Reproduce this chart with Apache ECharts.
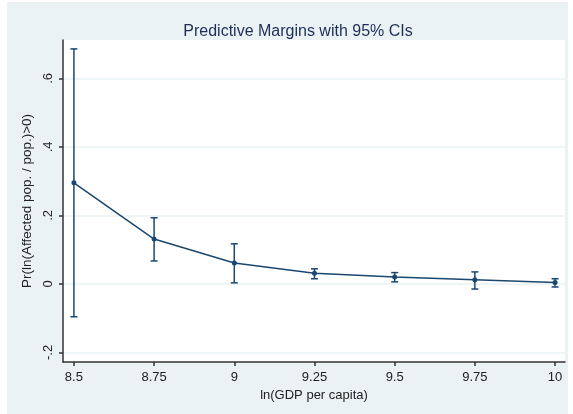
<!DOCTYPE html>
<html>
<head>
<meta charset="utf-8">
<script src="https://cdn.jsdelivr.net/npm/echarts@6/dist/echarts.min.js"></script>
<style>
  html, body { margin: 0; padding: 0; background: #ffffff; width: 573px; height: 414px; overflow: hidden; }
  #chart { position: absolute; left: 7px; top: 2px; width: 561px; height: 412px; }
</style>
</head>
<body>
<div id="chart"></div>
<script>
// Data
const gdpLevels = [8.5, 8.75, 9, 9.25, 9.5, 9.75, 10];
const margins   = [0.295, 0.131, 0.061, 0.031, 0.020, 0.012, 0.004];
const ciLower   = [-0.096, 0.067, 0.003, 0.015, 0.006, -0.015, -0.009];
const ciUpper   = [0.686, 0.193, 0.117, 0.044, 0.033, 0.035, 0.015];
const xTicks    = [8.5, 8.75, 9, 9.25, 9.5, 9.75, 10];
const xTickLabels = ['8.5', '8.75', '9', '9.25', '9.5', '9.75', '10'];
const yTicks    = [-0.2, 0, 0.2, 0.4, 0.6];
const yTickLabels = ['-.2', '0', '.2', '.4', '.6'];

const navy = '#1a476f';
const font = 'Arial, "Liberation Sans", sans-serif';

const chart = echarts.init(document.getElementById('chart'), null, { renderer: 'canvas' });

const pointData = gdpLevels.map((x, i) => [x, margins[i]]);
const ciData = gdpLevels.map((x, i) => [x, ciLower[i], ciUpper[i]]);

chart.setOption({
  backgroundColor: '#eaf2f3',
  animation: false,
  title: {
    text: 'Predictive Margins with 95% CIs',
    left: 286,
    top: 17,
    textAlign: 'center',
    textStyle: { fontFamily: font, fontSize: 16, fontWeight: 'normal', color: '#1e2d5a' }
  },
  grid: { left: 56, right: 3, top: 38, bottom: 52, show: true, backgroundColor: '#ffffff', borderWidth: 0 },
  xAxis: {
    type: 'value',
    min: 8.466,
    max: 10.031,
    name: 'ln(GDP per capita)',
    nameLocation: 'middle',
    nameGap: 25,
    nameTextStyle: { fontFamily: font, fontSize: 13, color: '#222' },
    axisLine: { show: true, onZero: false, lineStyle: { color: '#333', width: 1.5 } },
    axisTick: { show: true, length: 4, customValues: xTicks, lineStyle: { color: '#333', width: 1.5 } },
    axisLabel: {
      customValues: xTicks,
      margin: 9,
      fontFamily: font, fontSize: 13, color: '#222',
      formatter: v => { const i = xTicks.findIndex(t => Math.abs(t - v) < 1e-6); return i >= 0 ? xTickLabels[i] : ''; }
    },
    splitLine: { show: false }
  },
  yAxis: {
    type: 'value',
    min: -0.228,
    max: 0.712,
    name: 'Pr(ln(Affected pop. / pop.)>0)',
    nameLocation: 'middle',
    nameGap: 26,
    nameTextStyle: { fontFamily: font, fontSize: 13.5, color: '#222' },
    axisLine: { show: true, onZero: false, lineStyle: { color: '#333', width: 1.5 } },
    axisTick: { show: true, length: 4, customValues: yTicks, lineStyle: { color: '#333', width: 1.5 } },
    axisLabel: {
      customValues: yTicks,
      rotate: 90,
      margin: 8,
      fontFamily: font, fontSize: 13, color: '#222',
      formatter: v => { const i = yTicks.findIndex(t => Math.abs(t - v) < 1e-6); return i >= 0 ? yTickLabels[i] : ''; }
    },
    splitLine: { show: true, lineStyle: { color: '#eaf2f3', width: 1.5 } }
  },
  series: [
    {
      type: 'custom',
      name: 'ci',
      data: ciData,
      z: 3,
      renderItem: function (params, api) {
        const x = api.value(0);
        const lo = api.coord([x, api.value(1)]);
        const hi = api.coord([x, api.value(2)]);
        const w = 3.5;
        const style = { stroke: navy, lineWidth: 1.5, fill: null };
        return {
          type: 'group',
          children: [
            { type: 'line', shape: { x1: lo[0], y1: lo[1], x2: hi[0], y2: hi[1] }, style: style },
            { type: 'line', shape: { x1: lo[0] - w, y1: lo[1], x2: lo[0] + w, y2: lo[1] }, style: style },
            { type: 'line', shape: { x1: hi[0] - w, y1: hi[1], x2: hi[0] + w, y2: hi[1] }, style: style }
          ]
        };
      },
      encode: { x: 0, y: [1, 2] }
    },
    {
      type: 'line',
      name: 'margin',
      data: pointData,
      z: 4,
      symbol: 'circle',
      symbolSize: 5,
      itemStyle: { color: navy },
      lineStyle: { color: navy, width: 1.5 }
    }
  ]
});
</script>
</body>
</html>
